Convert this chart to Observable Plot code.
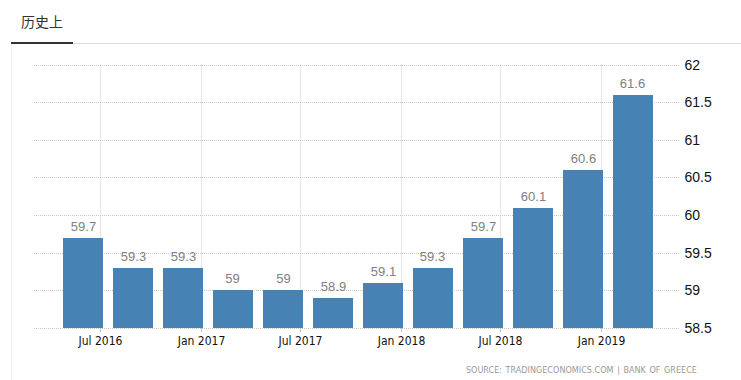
<!DOCTYPE html>
<html>
<head>
<meta charset="utf-8">
<script src="https://cdn.jsdelivr.net/npm/d3@7"></script>
<script src="https://cdn.jsdelivr.net/npm/@observablehq/plot@0.6"></script>
<style>
  html, body { margin: 0; padding: 0; background: #fff; }
  body { width: 741px; height: 380px; position: relative; overflow: hidden; font-family: "Liberation Sans", Arial, sans-serif; }
  #title { position: absolute; left: 21px; top: 11px; font-family: "Noto Sans CJK SC", sans-serif; font-size: 14px; color: #333; }
  #tabline { position: absolute; left: 11px; top: 42px; width: 62px; height: 2px; background: #333; }
  #rule { position: absolute; left: 73px; top: 43px; width: 668px; height: 1px; background: #dcdcdc; }
  #leftb { position: absolute; left: 11px; top: 44px; width: 1px; height: 336px; background: #f3f3f3; }
  #chart { position: absolute; left: 0; top: 44px; }
  #source { position: absolute; right: 44px; top: 365px; font-family: "DejaVu Sans Condensed", "DejaVu Sans", sans-serif; font-size: 9px; color: #9a9a9a; word-spacing: 1px; white-space: nowrap; }
</style>
</head>
<body>
<div id="title">历史上</div>
<div id="tabline"></div>
<div id="rule"></div>
<div id="leftb"></div>
<div id="chart"></div>
<div id="source">SOURCE: TRADINGECONOMICS.COM | BANK OF GREECE</div>
<script>
// Data (quarterly bars)
const dates = ["2016-05-31", "2016-08-31", "2016-11-30", "2017-02-28", "2017-05-31", "2017-08-31",
               "2017-11-30", "2018-02-28", "2018-05-31", "2018-08-31", "2018-11-30", "2019-02-28"];
const values = [59.7, 59.3, 59.3, 59, 59, 58.9, 59.1, 59.3, 59.7, 60.1, 60.6, 61.6];
const yTicks = [58.5, 59, 59.5, 60, 60.5, 61, 61.5, 62];
const xTicks = ["2016-07-01", "2017-01-01", "2017-07-01", "2018-01-01", "2018-07-01", "2019-01-01"];
const xDomain = ["2016-03-03", "2019-05-26"];

const data = dates.map((d, i) => ({date: new Date(d), value: values[i]}));
const xTickDates = xTicks.map(d => new Date(d));
const base = yTicks[0];

const chart = Plot.plot({
  width: 741,
  height: 311,
  marginLeft: 34,
  marginRight: 61,
  marginTop: 20.5,
  marginBottom: 27,
  style: { background: "transparent", overflow: "visible", fontFamily: "Liberation Sans, Arial, sans-serif" },
  x: { type: "utc", domain: xDomain.map(d => new Date(d)), round: true },
  y: { domain: [yTicks[0], yTicks[yTicks.length - 1]], round: true },
  marks: [
    Plot.gridY(yTicks, { stroke: "#c8c8c8", strokeOpacity: 1, strokeDasharray: "1,1" }),
    Plot.gridX(xTickDates, { stroke: "#cccccc", strokeOpacity: 1, strokeDasharray: "1,1" }),
    Plot.rectY(data, {
      x1: d => d3.utcDay.offset(d.date, -36),
      x2: d => d3.utcDay.offset(d.date, 37),
      y1: base,
      y2: "value",
      fill: "#4682b4"
    }),
    Plot.text(data, {
      x: "date", y: "value", text: d => String(d.value),
      lineAnchor: "bottom", dy: -8,
      fill: "#808080", fontSize: 13,
      fontFamily: "Liberation Sans Narrow, Liberation Sans, Arial, sans-serif"
    }),
    Plot.axisX(xTickDates, {
      tickSize: 4, tickPadding: 4, stroke: "#c4c4c4", fill: "#111",
      tickFormat: d3.utcFormat("%b %Y"),
      fontSize: 12, fontFamily: "DejaVu Sans Condensed, DejaVu Sans, sans-serif",
      label: null
    }),
    Plot.axisY(yTicks, {
      anchor: "right", tickSize: 0, tickPadding: 4, fill: "#111",
      tickFormat: d => String(d),
      fontSize: 14, fontFamily: "Liberation Sans Narrow, Liberation Sans, Arial, sans-serif",
      label: null
    })
  ]
});
document.getElementById("chart").appendChild(chart);
</script>
</body>
</html>
